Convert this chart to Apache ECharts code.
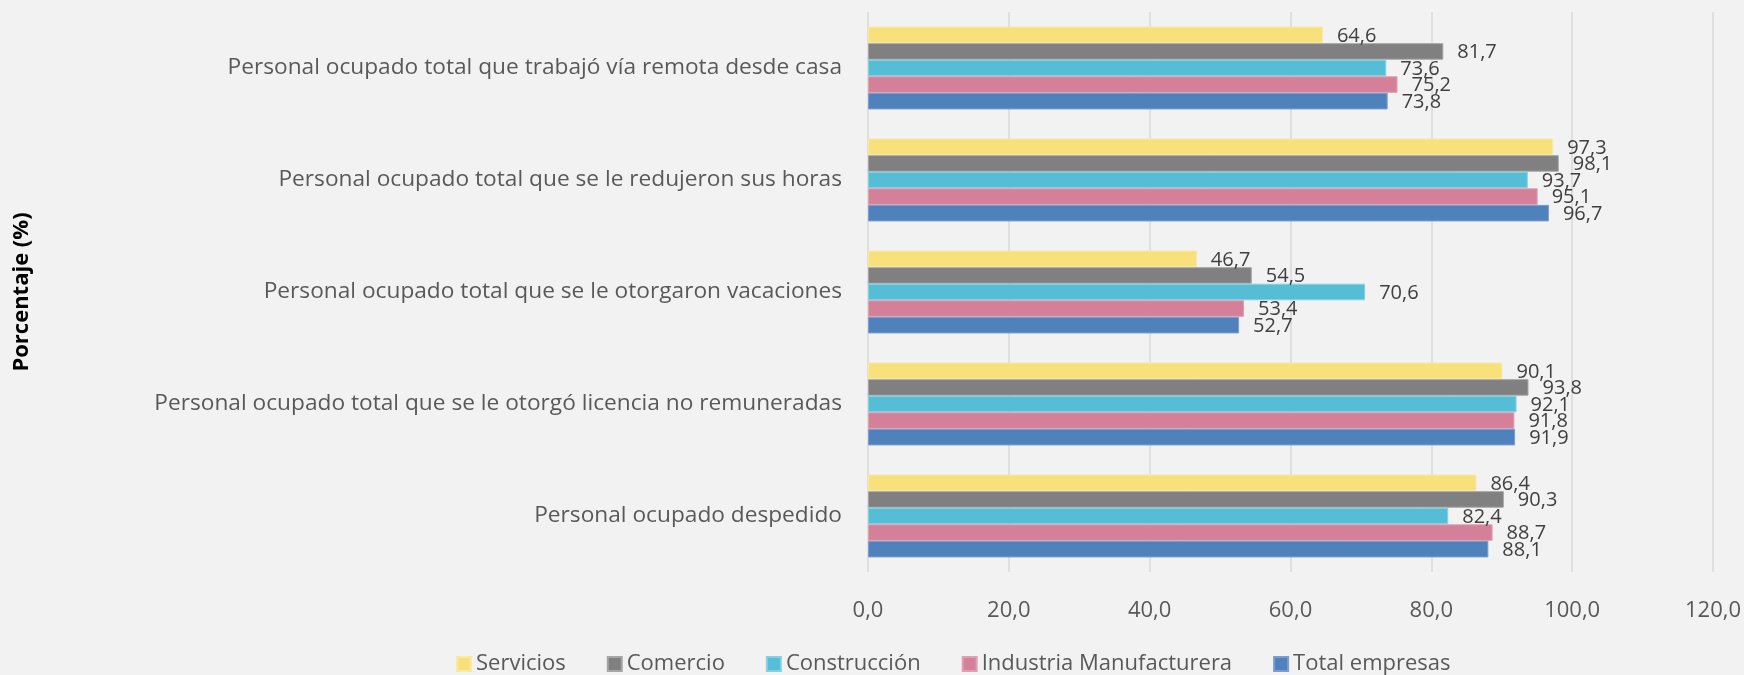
<!DOCTYPE html>
<html>
<head>
<meta charset="utf-8">
<script src="https://cdn.jsdelivr.net/npm/echarts@6/dist/echarts.min.js"></script>
<style>
  html, body { margin: 0; padding: 0; background: #f2f2f2; }
  #chart { width: 1744px; height: 675px; }
</style>
</head>
<body>
<div id="chart"></div>
<script>
  // categorias (de abajo hacia arriba, como las pinta echarts)
  const categories = [
    'Personal ocupado despedido',
    'Personal ocupado total que se le otorgó licencia no remuneradas',
    'Personal ocupado total que se le otorgaron vacaciones',
    'Personal ocupado total que se le redujeron sus horas',
    'Personal ocupado total que trabajó vía remota desde casa'
  ]
  const servicios = [86.4, 90.1, 46.7, 97.3, 64.6]
  const comercio = [90.3, 93.8, 54.5, 98.1, 81.7]
  const construccion = [82.4, 92.1, 70.6, 93.7, 73.6]
  const industria = [88.7, 91.8, 53.4, 95.1, 75.2]
  const totalEmpresas = [88.1, 91.9, 52.7, 96.7, 73.8]
  const xTicks = [0, 20, 40, 60, 80, 100, 120]

  const fontFam = '"Open Sans", "Noto Sans", sans-serif'
  const fmt = v => v.toFixed(1).replace('.', ',')

  const chartDom = document.getElementById('chart')
  const myChart = echarts.init(chartDom)

  function serie(name, data, color, border) {
    return {
      name: name,
      type: 'bar',
      data: data,
      barGap: '0%',
      barCategoryGap: '26%',
      itemStyle: { color: color, borderColor: border, borderWidth: 1 },
      label: {
        show: true,
        position: 'right',
        distance: 14,
        offset: [0, 1],
        color: '#404040',
        fontSize: 20,
        fontFamily: fontFam,
        formatter: p => fmt(p.value)
      }
    }
  }

  const option = {
    backgroundColor: '#f2f2f2',
    animation: false,
    grid: { left: 868, right: 31, top: 12, bottom: 103, containLabel: false },
    legend: {
      bottom: -5,
      left: 451,
      data: ['Servicios', 'Comercio', 'Construcción', 'Industria Manufacturera', 'Total empresas'],
      icon: 'rect',
      itemWidth: 14,
      itemHeight: 14,
      itemGap: 41,
      textStyle: { color: '#595959', fontSize: 22, fontFamily: fontFam }
    },
    xAxis: {
      type: 'value',
      min: 0,
      max: 120,
      interval: 20,
      axisLine: { show: false },
      axisTick: { show: false },
      splitLine: { lineStyle: { color: '#d9d9d9', width: 1.5 } },
      axisLabel: {
        color: '#595959',
        fontSize: 22,
        fontFamily: fontFam,
        margin: 28,
        formatter: v => xTicks.includes(v) ? fmt(v) : ''
      }
    },
    yAxis: {
      type: 'category',
      data: categories,
      axisLine: { show: false },
      axisTick: { show: false },
      axisLabel: {
        color: '#595959',
        fontSize: 22.7,
        fontFamily: fontFam,
        margin: 26
      }
    },
    graphic: [{
      type: 'text',
      x: 22,
      y: 292,
      rotation: Math.PI / 2,
      style: {
        text: 'Porcentaje (%)',
        fill: '#000',
        font: 'bold 22px ' + fontFam,
        textAlign: 'center',
        textVerticalAlign: 'middle'
      }
    }],
    series: [
      serie('Servicios', servicios, '#f8e07a', '#f9e9a3'),
      serie('Comercio', comercio, '#808080', '#a6a6a6'),
      serie('Construcción', construccion, '#55bed6', '#86d0e1'),
      serie('Industria Manufacturera', industria, '#d48099', '#e0a0b3'),
      serie('Total empresas', totalEmpresas, '#4f81bd', '#7a9fcf')
    ]
  }

  myChart.setOption(option)
</script>
</body>
</html>
